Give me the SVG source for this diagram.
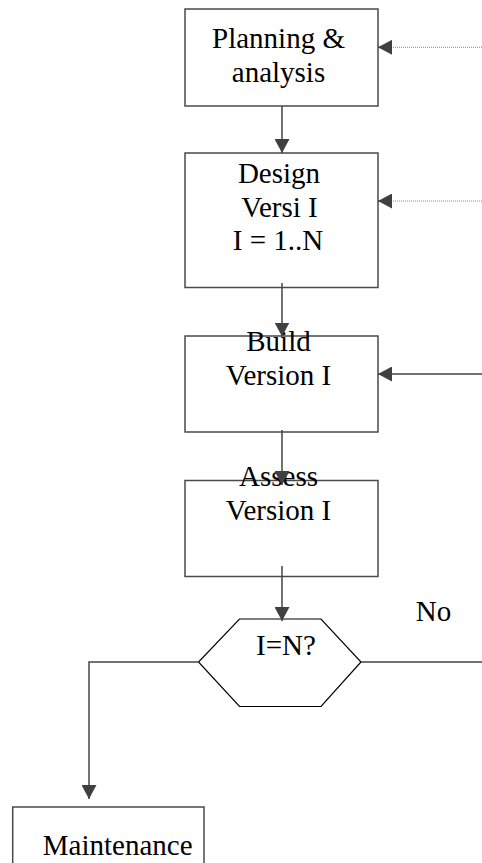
<svg xmlns="http://www.w3.org/2000/svg" width="482" height="863" viewBox="0 0 482 863">
  <style>
    .box { fill: #ffffff; stroke: #4a4a4a; stroke-width: 1.5; }
    .hex { fill: #ffffff; stroke: #000000; stroke-width: 1.2; }
    .lbl { font-family: "Liberation Serif", "Times New Roman", serif; font-size: 29px; fill: #000000; text-anchor: middle; }
    .edge { fill: none; stroke: #454545; stroke-width: 1.5; }
    .dot { fill: none; stroke: #888888; stroke-width: 1; stroke-dasharray: 1 1; }
  </style>
  <defs>
    <marker id="arrow" markerUnits="userSpaceOnUse" markerWidth="15" markerHeight="15" viewBox="0 0 15 15" refX="14" refY="7.5" orient="auto">
      <path d="M0 0 L14 7.5 L0 15 Z" fill="#404040"/>
    </marker>
  </defs>

  <g id="planning">
    <rect class="box" x="185" y="9" width="193" height="97"/>
    <text class="lbl" x="278.5" y="48">Planning &amp;</text>
    <text class="lbl" x="278.5" y="81.5">analysis</text>
  </g>

  <g id="design">
    <rect class="box" x="185" y="153" width="193" height="134.5"/>
    <text class="lbl" x="279" y="183">Design</text>
    <text class="lbl" x="279.5" y="216.5">Versi I</text>
    <text class="lbl" x="278" y="250">I = 1..N</text>
  </g>

  <g id="build">
    <rect class="box" x="185" y="336" width="193" height="96"/>
    <text class="lbl" x="278.5" y="350.5">Build</text>
    <text class="lbl" x="278.5" y="385">Version I</text>
  </g>

  <g id="assess">
    <rect class="box" x="185" y="480.5" width="193" height="96"/>
    <text class="lbl" x="278.5" y="486">Assess</text>
    <text class="lbl" x="278.5" y="520">Version I</text>
  </g>

  <g id="decision">
    <polygon class="hex" points="239.5,619 321,619 361,662 321,706.5 239.5,706.5 198.5,662"/>
    <text class="lbl" x="286" y="655">I=N?</text>
  </g>

  <g id="maintenance">
    <rect class="box" x="12.7" y="807" width="191.3" height="70"/>
    <text class="lbl" x="117.7" y="855">Maintenance</text>
  </g>

  <g id="label-no">
    <text class="lbl" x="433.5" y="620.5">No</text>
  </g>

  <g id="connectors">
    <path class="edge" d="M282 106 V153" marker-end="url(#arrow)"/>
    <path class="edge" d="M282 283 V336.5" marker-end="url(#arrow)"/>
    <path class="edge" d="M282 430 V485" marker-end="url(#arrow)"/>
    <path class="edge" d="M282 566 V621" marker-end="url(#arrow)"/>
    <path class="edge" d="M198.5 662 H89 V799" marker-end="url(#arrow)"/>
    <path class="edge" d="M361 662 H482"/>
    <path class="edge" d="M482 374 H378" marker-end="url(#arrow)"/>
    <path class="dot" d="M482 47.3 H392"/>
    <path class="edge" d="M392 47.3 H378" stroke-width="0" marker-end="url(#arrow)"/>
    <path class="dot" d="M482 201 H392"/>
    <path class="edge" d="M392 201 H378" stroke-width="0" marker-end="url(#arrow)"/>
  </g>
</svg>
